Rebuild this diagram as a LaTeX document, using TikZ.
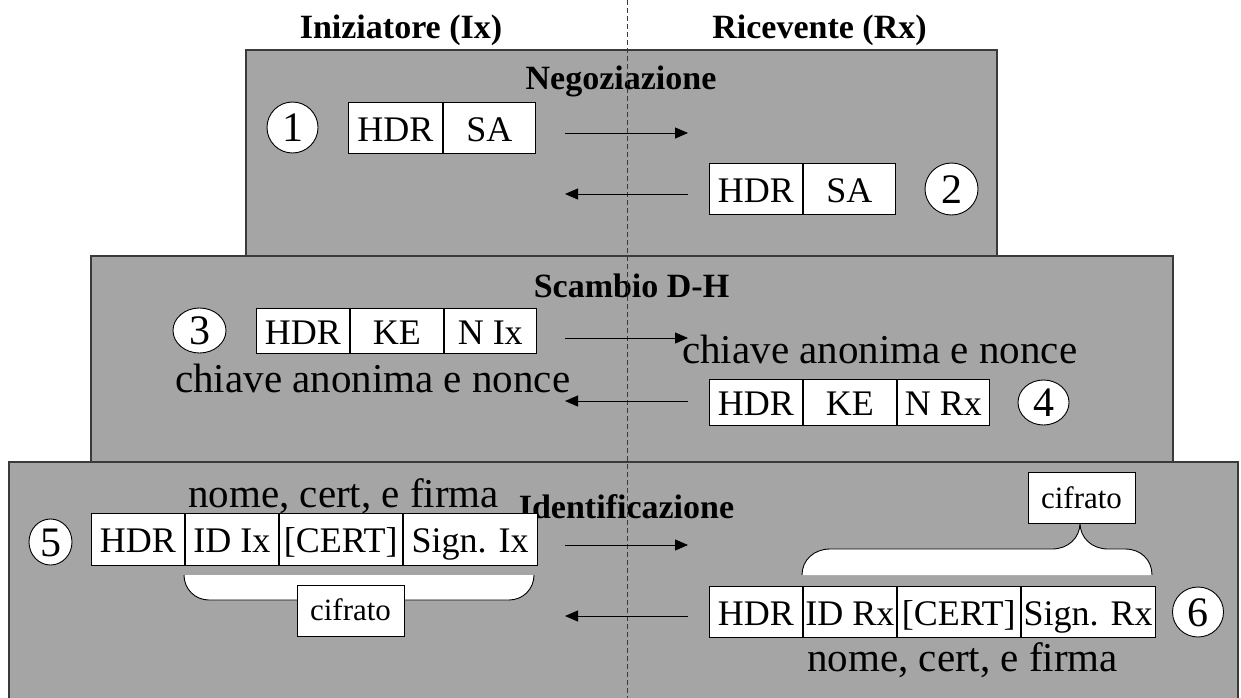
\documentclass[tikz,border=0pt]{standalone}
\usepackage{fontspec}
\setmainfont{Liberation Serif}
\usetikzlibrary{arrows.meta,shapes.geometric}
\definecolor{panelgray}{HTML}{A5A5A5}
\definecolor{edgegray}{HTML}{3A3A3A}
\begin{document}
\begin{tikzpicture}[x=1pt,y=-1pt,
  panel/.style={fill=panelgray,draw=edgegray,line width=1.2pt},
  phase/.style={font=\fontsize{34}{40}\selectfont\bfseries,inner sep=0pt},
  side/.style={font=\fontsize{34}{40}\selectfont\bfseries,inner sep=0pt},
  note/.style={font=\fontsize{41}{48}\selectfont,inner sep=0pt},
  cell/.style={draw=black,fill=white,line width=0.9pt,inner sep=0pt,anchor=west,
    font=\fontsize{36}{42}\selectfont,text height=27pt,text depth=0pt},
  num/.style={ellipse,draw=black,fill=white,line width=0.9pt,inner sep=0pt,
    font=\fontsize{42}{48}\selectfont,text height=28.4pt,text depth=0pt},
  tag/.style={draw=black,fill=white,line width=0.9pt,inner sep=0pt,
    minimum width=107pt,minimum height=51pt,font=\fontsize{31}{36}\selectfont,
    text height=20pt,text depth=0pt},
  msg/.style={line width=0.9pt,-{Triangle[length=13pt,width=11pt]}},
  brace/.style={draw=black,line width=0.9pt},
  divider/.style={draw=edgegray,line width=0.9pt,dash pattern=on 5pt off 3pt}]
\useasboundingbox (0,0) rectangle (1241,698);

% phase panels, stacked like a pyramid
\path[panel] (246,50) rectangle (997,256);
\path[panel] (91,256) rectangle (1173,462);
\path[panel] (9,462) rectangle (1238,705);

% party titles
\node[side,anchor=base] (ix) at (401,39) {Iniziatore (Ix)};
\node[side,anchor=base] (rx) at (819.5,39) {Ricevente (Rx)};

% phase titles
\node[phase,anchor=base] (neg) at (621,90) {Negoziazione};
\node[phase,anchor=base] (dh) at (631.5,297) {Scambio D-H};
\node[phase,anchor=base] (idf) at (626.5,518) {Identificazione};

% explanatory notes
\node[note,anchor=base west] (keyl) at (175,392) {chiave anonima e nonce};
\node[note,anchor=base west] (keyr) at (682,363) {chiave anonima e nonce};
\node[note,anchor=base west] (idl) at (188,507) {nome, cert, e firma};
\node[note,anchor=base west] (idr) at (807,671) {nome, cert, e firma};

% boundary between the two parties
\coordinate (divtop) at (627,0);
\coordinate (divbot) at (627,698);
\draw[divider] (divtop) -- (divbot);

% message arrows
\coordinate (m1a) at (565,133); \coordinate (m1b) at (688,133);
\coordinate (m2a) at (688,194); \coordinate (m2b) at (565,194);
\coordinate (m3a) at (565,338); \coordinate (m3b) at (688,338);
\coordinate (m4a) at (688,401); \coordinate (m4b) at (565,401);
\coordinate (m5a) at (565,545); \coordinate (m5b) at (688,545);
\coordinate (m6a) at (688,616); \coordinate (m6b) at (565,616);
\draw[msg] (m1a) -- (m1b);
\draw[msg] (m2a) -- (m2b);
\draw[msg] (m3a) -- (m3b);
\draw[msg] (m4a) -- (m4b);
\draw[msg] (m5a) -- (m5b);
\draw[msg] (m6a) -- (m6b);

% brace under the encrypted part of message 5
\fill[white] (184,575) .. controls (184,589) and (195,600) .. (209,600)
  -- (509,600) .. controls (523,600) and (534,589) .. (534,575) -- cycle;
\draw[brace] (184,575) .. controls (184,589) and (195,600) .. (209,600)
  -- (509,600) .. controls (523,600) and (534,589) .. (534,575);
\node[tag] (enc5) at (350.5,610.5) {cifrato};

% brace over the encrypted part of message 6
\fill[white] (802,575) .. controls (802,560) and (814,549) .. (830,549)
  -- (1052,549) .. controls (1068,549) and (1080,538) .. (1080,523)
  .. controls (1080,538) and (1092,549) .. (1108,549)
  -- (1125,549) .. controls (1141,549) and (1152,560) .. (1152,575) -- cycle;
\draw[brace] (802,575) .. controls (802,560) and (814,549) .. (830,549)
  -- (1052,549) .. controls (1068,549) and (1080,538) .. (1080,523)
  .. controls (1080,538) and (1092,549) .. (1108,549)
  -- (1125,549) .. controls (1141,549) and (1152,560) .. (1152,575);
\node[tag] (enc6) at (1081.5,498) {cifrato};

% message 1
\node[cell,minimum width=94pt,minimum height=51pt] (p1a) at (348,127.5) {HDR};
\node[cell,minimum width=92pt,minimum height=51pt] (p1b) at (p1a.east) {SA};
% message 2
\node[cell,minimum width=93pt,minimum height=51pt] (p2a) at (709,188.5) {HDR};
\node[cell,minimum width=92pt,minimum height=51pt] (p2b) at (p2a.east) {SA};
% message 3
\node[cell,minimum width=93pt,minimum height=45pt] (p3a) at (256,330.5) {HDR};
\node[cell,minimum width=93pt,minimum height=45pt] (p3b) at (p3a.east) {KE};
\node[cell,minimum width=92pt,minimum height=45pt] (p3c) at (p3b.east) {N Ix};
% message 4
\node[cell,minimum width=93pt,minimum height=46pt] (p4a) at (709,402) {HDR};
\node[cell,minimum width=93pt,minimum height=46pt] (p4b) at (p4a.east) {KE};
\node[cell,minimum width=92pt,minimum height=46pt] (p4c) at (p4b.east) {N Rx};
% message 5
\node[cell,minimum width=93pt,minimum height=52pt] (p5a) at (91,539) {HDR};
\node[cell,minimum width=93pt,minimum height=52pt] (p5b) at (p5a.east) {ID Ix};
\node[cell,minimum width=123pt,minimum height=52pt] (p5c) at (p5b.east) {[CERT]};
\node[cell,minimum width=134pt,minimum height=52pt] (p5d) at (p5c.east) {Sign. Ix};
% message 6
\node[cell,minimum width=93pt,minimum height=51pt] (p6a) at (709,611.5) {HDR};
\node[cell,minimum width=93pt,minimum height=51pt] (p6b) at (p6a.east) {ID Rx};
\node[cell,minimum width=123pt,minimum height=51pt] (p6c) at (p6b.east) {[CERT]};
\node[cell,minimum width=134pt,minimum height=51pt] (p6d) at (p6c.east) {Sign. Rx};

% step numbers
\node[num,minimum width=51pt,minimum height=51pt] (s1) at (292.5,127.5) {1};
\node[num,minimum width=53pt,minimum height=52pt] (s2) at (951.5,189) {2};
\node[num,minimum width=53pt,minimum height=45pt] (s3) at (199.5,330.5) {3};
\node[num,minimum width=51pt,minimum height=45pt] (s4) at (1043.5,402.5) {4};
\node[num,minimum width=43pt,minimum height=46pt] (s5) at (50.5,542) {5};
\node[num,minimum width=51pt,minimum height=50pt] (s6) at (1198,612) {6};
\end{tikzpicture}
\end{document}
